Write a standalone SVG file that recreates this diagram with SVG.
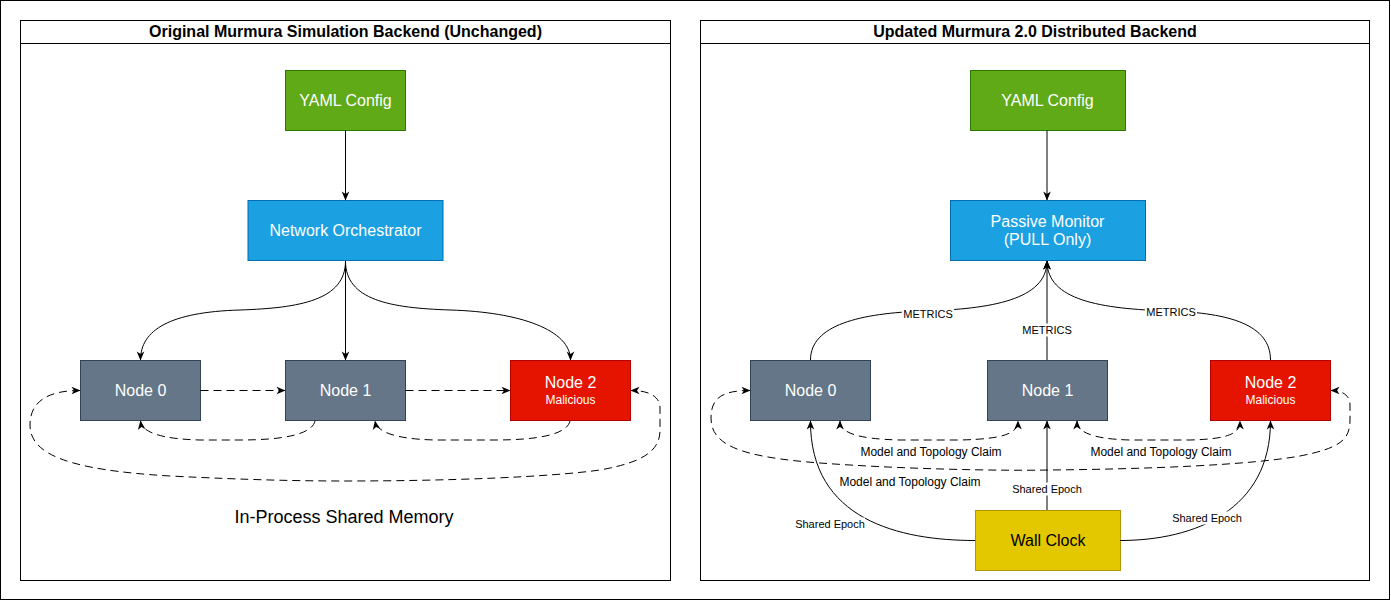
<svg xmlns="http://www.w3.org/2000/svg" width="1391" height="601" viewBox="0 0 1391 601">
<defs>
<style>
text{font-family:"Liberation Sans",Arial,Helvetica,sans-serif}
.panel{fill:#fff;stroke:#000;stroke-width:1}
.title{font-size:16px;font-weight:bold;fill:#000;text-anchor:middle}
.box text{text-anchor:middle;fill:#fff;font-size:16px}
.box text.small{font-size:12px}
.green rect{fill:#60a917;stroke:#2d7600}
.blue rect{fill:#1ba1e2;stroke:#006eaf}
.gray rect{fill:#647687;stroke:#314354}
.red rect{fill:#e51400;stroke:#b20000}
.yellow rect{fill:#e3c800;stroke:#b09500}
.yellow text{fill:#000}
.e{fill:none;stroke:#000;stroke-width:1}
.d{stroke-dasharray:8 5}
.end{marker-end:url(#arr)}
.both{marker-start:url(#arr);marker-end:url(#arr)}
.lbg{fill:#fff}
.lbl{font-size:11px;fill:#000;text-anchor:middle}
.lbl12{font-size:12px;fill:#000;text-anchor:middle}
</style>
<marker id="arr" viewBox="0 0 10 10" refX="9.5" refY="5" markerWidth="10" markerHeight="10" markerUnits="userSpaceOnUse" orient="auto-start-reverse">
<path d="M1,1.2 L10,5 L1,8.8 L3.5,5 Z" fill="#000" stroke="none"/>
</marker>
</defs>
<rect x="0" y="0" width="1391" height="601" fill="#fff"/>
<rect x="0.5" y="0.5" width="1389" height="599" fill="none" stroke="#000"/>

<g id="panel-original">
<rect class="panel" x="20.5" y="20.5" width="650" height="560"/>
<line x1="20.5" y1="43.5" x2="670.5" y2="43.5" stroke="#000"/>
<text class="title" x="345.5" y="37">Original Murmura Simulation Backend (Unchanged)</text>
</g>
<g id="panel-updated">
<rect class="panel" x="700.5" y="20.5" width="669" height="560"/>
<line x1="700.5" y1="43.5" x2="1369.5" y2="43.5" stroke="#000"/>
<text class="title" x="1035" y="37">Updated Murmura 2.0 Distributed Backend</text>
</g>

<g id="l-yaml" class="box green"><rect x="285.5" y="70.5" width="120" height="60"/><text x="345.5" y="105.5">YAML Config</text></g>
<g id="l-orchestrator" class="box blue"><rect x="248" y="200.5" width="195" height="60"/><text x="345.5" y="235.5">Network Orchestrator</text></g>
<g id="l-node0" class="box gray"><rect x="80.5" y="360.5" width="120" height="60"/><text x="140.5" y="395.5">Node 0</text></g>
<g id="l-node1" class="box gray"><rect x="285.5" y="360.5" width="120" height="60"/><text x="345.5" y="395.5">Node 1</text></g>
<g id="l-node2" class="box red"><rect x="510.5" y="360.5" width="120" height="60"/><text x="570.5" y="388">Node 2</text><text class="small" x="570.5" y="404.2">Malicious</text></g>
<g id="l-memory-label"><text x="344" y="523" font-size="18" text-anchor="middle" fill="#000">In-Process Shared Memory</text></g>

<g id="r-yaml" class="box green"><rect x="970.5" y="70.5" width="155" height="60"/><text x="1047.5" y="105.5">YAML Config</text></g>
<g id="r-monitor" class="box blue"><rect x="950.5" y="200.5" width="195" height="60"/><text x="1047.5" y="226.5">Passive Monitor</text><text x="1047.5" y="245">(PULL Only)</text></g>
<g id="r-node0" class="box gray"><rect x="750.5" y="360.5" width="120" height="60"/><text x="810.5" y="395.5">Node 0</text></g>
<g id="r-node1" class="box gray"><rect x="987.5" y="360.5" width="120" height="60"/><text x="1047.5" y="395.5">Node 1</text></g>
<g id="r-node2" class="box red"><rect x="1210.5" y="360.5" width="120" height="60"/><text x="1270.5" y="388">Node 2</text><text class="small" x="1270.5" y="404.2">Malicious</text></g>
<g id="r-wallclock" class="box yellow"><rect x="975.5" y="510.5" width="145" height="60"/><text x="1048" y="545.5">Wall Clock</text></g>

<g id="connectors">
<!-- left panel -->
<path class="e end" d="M345.5,130.5 L345.5,200"/>
<path class="e end" d="M345.5,261 L345.5,360"/>
<path class="e end" d="M345.5,261 C345.5,300 300,308 240,310 C170,312 140.5,330 140.5,360"/>
<path class="e end" d="M345.5,261 C345.5,300 390,308 450,310 C520,312 570.5,330 570.5,360"/>
<path class="e d end" d="M200.5,390.5 L285,390.5"/>
<path class="e d end" d="M405.5,390.5 L510,390.5"/>
<path class="e d end" d="M315,421 C312,434 285,440 240,440 L200,440 C160,439 142,432 140.5,421"/>
<path class="e d end" d="M570,421 C567,434 540,440 495,440 L435,440 C395,439 377,432 375,421"/>
<path class="e d both" d="M80,390.5 C50,390.5 30,400 30,425 C30,455 70,470 170,476 C250,480 300,481 345,481 C450,481 550,477 600,470 C645,462 660,450 660,430 L660,408 C660,397 650,390.5 631,390.5"/>

<!-- right panel -->
<path class="e end" d="M1047,130.5 L1047,200"/>
<path class="e end" d="M1047,360 L1047,261"/>
<path class="e end" d="M810.5,360 C810.5,325 860,313 925,311 C990,309 1047,300 1047,261"/>
<path class="e end" d="M1270.5,360 C1270.5,325 1230,313 1170,311 C1100,309 1047,300 1047,261"/>
<path class="e d both" d="M840,421 C840,432 855,439 900,440 L960,440 C1005,439 1018,433 1018,421"/>
<path class="e d both" d="M1077,421 C1077,432 1092,439 1130,440 L1190,440 C1230,439 1240,433 1240,421"/>
<path class="e d both" d="M750,390.5 C722,390.5 711,398 711,418 C711,445 740,457 820,463 C900,469 1000,471 1050,470 C1150,469 1250,465 1300,456 C1340,448 1350,440 1350,420 L1350,405 C1350,395 1342,390.5 1331,390.5"/>
<path class="e end" d="M975,540.5 C900,540.5 810,520 810.5,421"/>
<path class="e end" d="M1047,510 L1047,421"/>
<path class="e end" d="M1120,540.5 C1195,540.5 1270.5,510 1270.5,421"/>

<g id="labels">
<rect class="lbg" x="902" y="307.5" width="52" height="13"/><text class="lbl" x="928" y="318">METRICS</text>
<rect class="lbg" x="1021" y="323.5" width="52" height="13"/><text class="lbl" x="1047" y="334.2">METRICS</text>
<rect class="lbg" x="1145" y="305.5" width="52" height="13"/><text class="lbl" x="1171" y="316.2">METRICS</text>
<rect class="lbg" x="858" y="444.5" width="146" height="14"/><text class="lbl12" x="931" y="456">Model and Topology Claim</text>
<rect class="lbg" x="1088" y="444.5" width="146" height="14"/><text class="lbl12" x="1161" y="456">Model and Topology Claim</text>
<rect class="lbg" x="837" y="474.5" width="146" height="14"/><text class="lbl12" x="910" y="486">Model and Topology Claim</text>
<rect class="lbg" x="795" y="517.5" width="70" height="13"/><text class="lbl" x="830" y="528">Shared Epoch</text>
<rect class="lbg" x="1012" y="482.5" width="70" height="13"/><text class="lbl" x="1047" y="493.2">Shared Epoch</text>
<rect class="lbg" x="1172" y="511.5" width="70" height="13"/><text class="lbl" x="1207" y="522.2">Shared Epoch</text>
</g>
</g>
</svg>
